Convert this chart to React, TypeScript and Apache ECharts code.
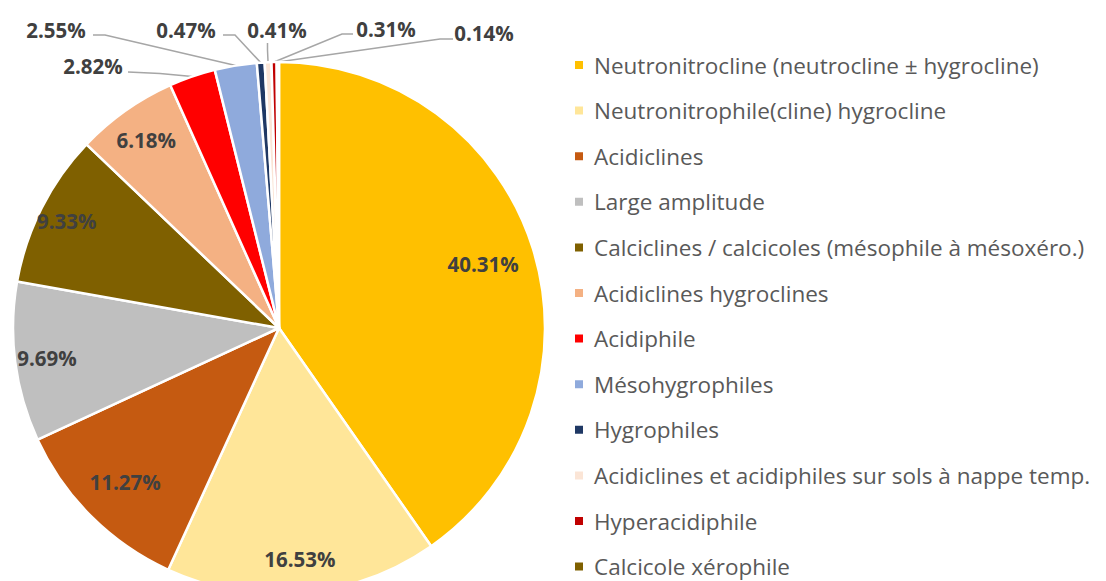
import React, { useEffect, useRef } from "react";
import * as echarts from "echarts";

const categories = [
  "Neutronitrocline (neutrocline ± hygrocline)",
  "Neutronitrophile(cline) hygrocline",
  "Acidiclines",
  "Large amplitude",
  "Calciclines / calcicoles (mésophile à mésoxéro.)",
  "Acidiclines hygroclines",
  "Acidiphile",
  "Mésohygrophiles",
  "Hygrophiles",
  "Acidiclines et acidiphiles sur sols à nappe temp.",
  "Hyperacidiphile",
  "Calcicole xérophile",
];
const values = [40.31, 16.53, 11.27, 9.69, 9.33, 6.18, 2.82, 2.55, 0.47, 0.41, 0.31, 0.14];
const colors = [
  "#FFC000", "#FFE699", "#C55A11", "#BFBFBF", "#7F6000", "#F4B183",
  "#FF0000", "#8FAADC", "#1F3864", "#FBE5D6", "#C00000", "#7F6000",
];

// Layout: radius at which each inside label sits
const INSIDE_LABEL_RADIUS: Record<number, number> = { 0: 211, 1: 229, 2: 215, 3: 231, 4: 235, 5: 227 };

// Layout of the outside labels (text centre, leader-line bend and end points)
const OUTSIDE_LAYOUT: Record<number, { x: number; y: number; bend: number[]; end: number[] }> = {
  6: { x: 93, y: 66, bend: [160, 73.5], end: [128, 72] },
  7: { x: 56, y: 30, bend: [105, 35], end: [93, 35] },
  8: { x: 186, y: 30, bend: [235, 35], end: [223, 35] },
  9: { x: 277, y: 30, bend: [267.5, 50], end: [267.5, 43] },
  10: { x: 386, y: 29, bend: [342, 34], end: [353, 34] },
  11: { x: 484, y: 33, bend: [440, 39], end: [453, 39] },
};

const CENTER = [279, 328];
const RADIUS = 266;
const LABEL_FONT = {
  fontFamily: "Open Sans",
  fontWeight: "bold" as const,
  fontSize: 20.5,
  color: "#404040",
};

const fmt = (v: number) => `${v.toFixed(2)}%`;

export default function App() {
  const ref = useRef<HTMLDivElement>(null);
  useEffect(() => {
    document.body.style.margin = "0";
    const chart = echarts.init(ref.current!, null, { renderer: "svg" });

    const mainData = categories.map((name, i) => ({
      name,
      value: values[i],
      itemStyle: { color: colors[i] },
      label: { show: i >= 6 },
      labelLine: { show: i >= 6 },
    }));

    // transparent ring whose mid-radius equals the wanted label radius
    const labelSeries = (index: number) => ({
      type: "pie",
      center: CENTER,
      radius: [2 * INSIDE_LABEL_RADIUS[index] - RADIUS, RADIUS],
      startAngle: 90,
      silent: true,
      emphasis: { disabled: true },
      tooltip: { show: false },
      avoidLabelOverlap: false,
      itemStyle: { color: "transparent", borderWidth: 0 },
      label: {
        show: true,
        position: "inside",
        formatter: (p: any) => fmt(p.value),
        ...LABEL_FONT,
      },
      labelLine: { show: false },
      data: categories.map((name, i) => ({
        name,
        value: values[i],
        label: { show: i === index },
      })),
    });

    chart.setOption({
      animation: false,
      backgroundColor: "#ffffff",
      legend: {
        orient: "vertical",
        left: 573,
        top: 53,
        padding: 0,
        itemWidth: 10,
        itemHeight: 10,
        itemGap: 21.6,
        icon: "rect",
        data: categories,
        textStyle: {
          fontFamily: "Open Sans",
          fontSize: 22.5,
          color: "#595959",
          lineHeight: 24,
          padding: [0, 0, 0, 5],
        },
      },
      series: [
        {
          type: "pie",
          center: CENTER,
          radius: [0, RADIUS],
          startAngle: 90,
          clockwise: true,
          avoidLabelOverlap: false,
          emphasis: { disabled: true },
          itemStyle: { borderColor: "#ffffff", borderWidth: 2.5 },
          label: {
            position: "outside",
            formatter: (p: any) => fmt(p.value),
            ...LABEL_FONT,
          },
          labelLine: {
            lineStyle: { color: "#A6A6A6", width: 1.5 },
          },
          labelLayout: (params: any) => {
            const cfg = OUTSIDE_LAYOUT[params.dataIndex];
            if (!cfg) return {};
            const edge =
              params.labelLinePoints && params.labelLinePoints[0]
                ? params.labelLinePoints[0]
                : [CENTER[0], CENTER[1] - RADIUS];
            return {
              x: cfg.x,
              y: cfg.y,
              align: "center",
              verticalAlign: "middle",
              labelLinePoints: [edge, cfg.bend, cfg.end],
            };
          },
          data: mainData,
        },
        ...Object.keys(INSIDE_LABEL_RADIUS).map((k) => labelSeries(Number(k))),
      ],
    });
    return () => chart.dispose();
  }, []);
  return <div ref={ref} style={{ width: 1106, height: 581 }} />;
}
